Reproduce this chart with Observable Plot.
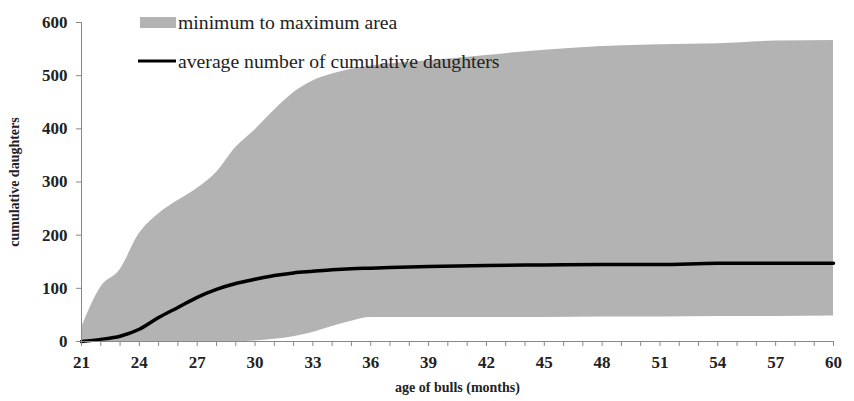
<!DOCTYPE html>
<html>
<head>
<meta charset="utf-8">
<script src="https://cdn.jsdelivr.net/npm/d3@7"></script>
<script src="https://cdn.jsdelivr.net/npm/@observablehq/plot@0.6"></script>
<style>
  html, body { margin: 0; padding: 0; background: #fff; }
  #wrap { position: relative; width: 854px; height: 401px; }
</style>
</head>
<body>
<div id="wrap"></div>
<script>
// Age of bulls (months)
const months  = [21, 22, 23, 24, 25, 26, 27, 28, 29, 30, 31, 32, 33, 34, 35, 36, 39, 42, 45, 48, 51, 54, 57, 60];
// Maximum cumulative daughters
const maxVals = [25, 102, 135, 203, 240, 265, 288, 318, 365, 398, 435, 468, 490, 503, 512, 518, 528, 538, 548, 555, 558, 560, 565, 566];
// Minimum cumulative daughters
const minVals = [0, 0, 0, 0, 0, 0, 0, 0, 0, 1, 4, 9, 17, 28, 38, 45, 45, 45, 45, 46, 46, 47, 47, 48];
// Average number of cumulative daughters
const avgVals = [0, 4, 10, 23, 45, 64, 83, 98, 109, 117, 124, 129, 132, 135, 137, 138, 141, 143, 144, 145, 145, 147, 147, 147];

const xTicks = d3.range(21, 61);
const yTicks = [0, 100, 200, 300, 400, 500, 600];
const legendLabels = ["minimum to maximum area", "average number of cumulative daughters"];

const data = months.map((m, i) => ({month: m, min: minVals[i], max: maxVals[i], avg: avgVals[i]}));

const serif = "'Liberation Serif', 'Times New Roman', serif";

const chart = Plot.plot({
  width: 854,
  height: 401,
  marginTop: 22,
  marginRight: 21,
  marginBottom: 60,
  marginLeft: 81,
  style: {fontFamily: serif, fontSize: "17px", color: "#222", background: "#fff"},
  x: {domain: [21, 60]},
  y: {domain: [0, 600]},
  marks: [
    Plot.areaY(data, {x: "month", y1: "min", y2: "max", fill: "#b3b3b3", curve: "monotone-x"}),
    Plot.lineY(data, {x: "month", y: "avg", stroke: "#000", strokeWidth: 3.5, curve: "monotone-x"}),
    Plot.ruleY([0], {stroke: "#888", strokeWidth: 1}),
    Plot.ruleX([21], {stroke: "#888", strokeWidth: 1}),
    Plot.axisX({ticks: xTicks, tickSize: 5, tickPadding: 9, stroke: "#888",
      tickFormat: d => ((d - 21) % 3 === 0 ? String(d) : ""),
      fontWeight: "bold", fontSize: 17, fill: "#222",
      label: "age of bulls (months)", labelAnchor: "center", labelArrow: "none", labelOffset: 50}),
    Plot.axisY({ticks: yTicks, tickSize: 5, tickPadding: 9, stroke: "#888",
      fontWeight: "bold", fontSize: 17, fill: "#222",
      label: null})
  ]
});

const wrap = document.getElementById("wrap");
wrap.appendChild(chart);

// Axis titles styling
d3.select(chart).selectAll("[aria-label='x-axis label'] text")
  .style("font-weight", "bold").style("font-size", "14px");

// Y title
d3.select(chart).append("text")
  .attr("transform", "translate(19,182) rotate(-90)")
  .attr("text-anchor", "middle")
  .style("font-family", serif)
  .style("font-weight", "bold").style("font-size", "14px")
  .attr("fill", "#222")
  .text("cumulative daughters");

// Legend (inside the plot, top-left)
const svg = d3.select(chart);
const leg = svg.append("g").attr("class", "legend")
  .attr("text-anchor", "start")
  .style("font-family", serif).style("font-size", "19.7px").attr("fill", "#222");
leg.append("rect").attr("x", 140).attr("y", 17).attr("width", 36).attr("height", 11).attr("fill", "#b3b3b3");
leg.append("text").attr("x", 178).attr("y", 29).text(legendLabels[0]);
leg.append("line").attr("x1", 138).attr("x2", 176).attr("y1", 61).attr("y2", 61)
  .attr("stroke", "#000").attr("stroke-width", 3);
leg.append("text").attr("x", 178).attr("y", 68).text(legendLabels[1]);
</script>
</body>
</html>
